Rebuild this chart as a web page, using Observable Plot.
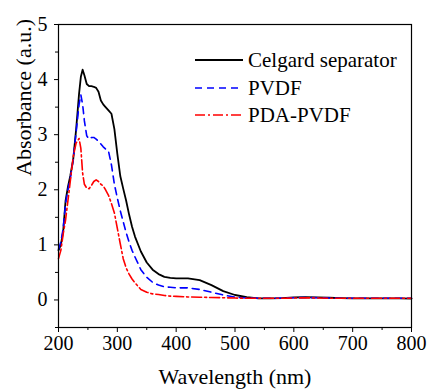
<!DOCTYPE html>
<html>
<head>
<meta charset="utf-8">
<script src="https://cdn.jsdelivr.net/npm/d3@7"></script>
<script src="https://cdn.jsdelivr.net/npm/@observablehq/plot@0.6"></script>
</head>
<body style="margin:0;padding:0;background:white;font-family:'Times New Roman'">
<div id="chart"></div>
<script>
const wavelength = [200,204,208,212,216,220,225,230,235,238,241,244,248,252,256,260,264,268,272,276,280,285,290,295,300,305,310,315,320,325,330,340,350,360,370,380,390,400,420,440,460,480,500,520,540,560,580,600,620,640,660,680,700,720,740,760,780,800];

const celgard = [0.90,1.00,1.25,1.80,2.05,2.25,2.55,3.10,3.75,4.05,4.18,4.08,3.92,3.88,3.88,3.87,3.85,3.78,3.62,3.55,3.50,3.44,3.38,3.10,2.65,2.25,2.02,1.80,1.55,1.33,1.15,0.88,0.68,0.55,0.47,0.42,0.40,0.39,0.39,0.36,0.27,0.16,0.09,0.05,0.03,0.03,0.035,0.045,0.05,0.045,0.04,0.035,0.03,0.03,0.03,0.03,0.03,0.025];

const pvdf = [0.92,1.05,1.30,1.75,2.00,2.20,2.55,3.05,3.55,3.72,3.55,3.25,2.98,2.92,2.95,2.95,2.92,2.88,2.83,2.78,2.74,2.70,2.45,2.10,1.85,1.62,1.42,1.22,1.05,0.90,0.78,0.55,0.41,0.32,0.27,0.24,0.23,0.22,0.22,0.19,0.14,0.09,0.05,0.035,0.03,0.03,0.035,0.04,0.045,0.04,0.035,0.03,0.03,0.03,0.03,0.03,0.03,0.03];

const pdaPvdf = [0.75,0.90,1.20,1.45,1.80,2.15,2.60,2.85,2.93,2.75,2.30,2.10,2.03,2.02,2.08,2.15,2.18,2.15,2.10,2.07,2.00,1.90,1.75,1.58,1.30,1.02,0.75,0.58,0.47,0.38,0.31,0.19,0.14,0.11,0.10,0.08,0.07,0.065,0.055,0.05,0.045,0.04,0.035,0.03,0.03,0.03,0.03,0.035,0.04,0.035,0.03,0.03,0.03,0.03,0.03,0.03,0.03,0.03];

const seriesNames = ["Celgard separator", "PVDF", "PDA-PVDF"];
const seriesColors = ["#000000", "#0000ff", "#ff0000"];
const seriesDash = [null, "7,5", "10,3,2,3"];
const seriesWidth = [1.8, 1.6, 1.6];
const seriesValues = [celgard, pvdf, pdaPvdf];

const xMajor = [200,300,400,500,600,700,800];
const xMinor = [250,350,450,550,650,750];
const yMajor = [0,1,2,3,4,5];
const yMinor = [-0.5,0.5,1.5,2.5,3.5,4.5];

const FONT = "Times New Roman";

const lineMarks = seriesValues.map((vals, i) =>
  Plot.line(wavelength.map((w, j) => ({w, a: vals[j]})), {
    x: "w", y: "a",
    stroke: seriesColors[i],
    strokeWidth: seriesWidth[i],
    strokeDasharray: seriesDash[i],
    curve: "linear"
  })
);

const plot = Plot.plot({
  width: 429,
  height: 392,
  marginLeft: 58,
  marginRight: 18,
  marginTop: 24,
  marginBottom: 65,
  x: {domain: [200, 800]},
  y: {domain: [-0.5, 5]},
  style: {fontFamily: FONT, fontSize: "20px"},
  marks: [
    ...lineMarks,
    Plot.frame({stroke: "black", strokeWidth: 1.2}),
    Plot.axisX({ticks: xMajor, tickSize: 5, tickPadding: 3, fontSize: 20, label: null, stroke: "black", fill: "black", tickFormat: d3.format("d")}),
    Plot.axisX({ticks: xMinor, tickSize: 3, tickFormat: () => "", label: null, stroke: "black"}),
    Plot.axisY({ticks: yMajor, tickSize: 4, tickPadding: 7, fontSize: 20, label: null, stroke: "black", fill: "black", tickFormat: d3.format("d")}),
    Plot.axisY({ticks: yMinor, tickSize: 3, tickFormat: () => "", label: null, stroke: "black"}),
    Plot.text(["Wavelength (nm)"], {frameAnchor: "bottom", dy: 56, lineAnchor: "bottom", text: d => d, fontSize: 22, fill: "black", fontFamily: FONT}),
    Plot.text(["Absorbance (a.u.)"], {frameAnchor: "left", dx: -35, rotate: -90, text: d => d, fontSize: 22, fill: "black", fontFamily: FONT})
  ]
});

const svg = d3.select(plot);
const legend = svg.append("g").attr("font-size", 21).attr("text-anchor", "start").attr("font-family", FONT);
const legendY = [60, 88, 115];
seriesNames.forEach((name, i) => {
  legend.append("line")
    .attr("x1", 195).attr("x2", 243)
    .attr("y1", legendY[i]).attr("y2", legendY[i])
    .attr("stroke", seriesColors[i])
    .attr("stroke-width", seriesWidth[i])
    .attr("stroke-dasharray", seriesDash[i]);
  legend.append("text")
    .attr("x", 248).attr("y", legendY[i]).attr("dy", "0.34em")
    .attr("text-anchor", "start")
    .attr("fill", "black")
    .text(name);
});

svg.selectAll("text").attr("font-family", FONT);

document.getElementById("chart").appendChild(plot);
</script>
</body>
</html>
